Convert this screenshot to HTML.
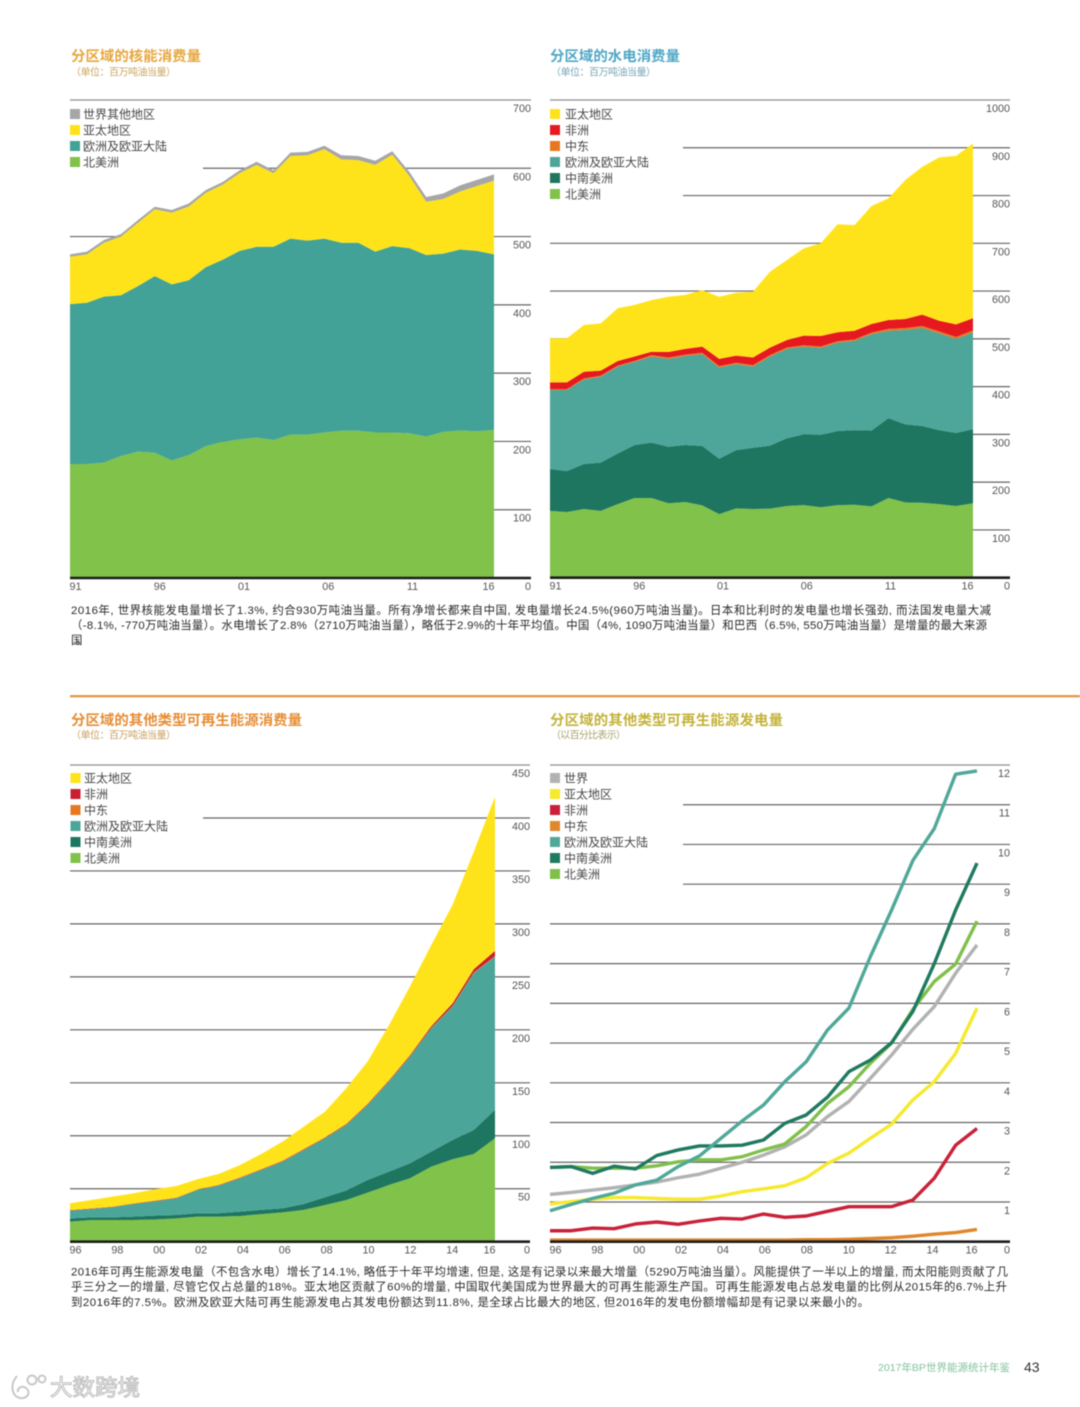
<!DOCTYPE html>
<html lang="zh-CN">
<head>
<meta charset="utf-8">
<title>2017年BP世界能源统计年鉴 第43页</title>
<style>
  html, body { margin: 0; padding: 0; background: #fff; }
  body { width: 1080px; height: 1407px; overflow: hidden; }
  #page { display: block; filter: blur(0.5px); }
  text { font-family: "Liberation Sans", "Noto Sans CJK SC", sans-serif; }
  .title { font-size: 14.4px; font-weight: 700; }
  .sub { font-size: 10px; }
  .legend { font-size: 12px; fill: #484848; }
  .tick { font-size: 10.8px; fill: #555555; }
  .cap { font-size: 11.4px; fill: #2a2a2a; }
</style>
</head>
<body>
<svg id="page" xmlns="http://www.w3.org/2000/svg" width="1080" height="1407" viewBox="0 0 1080 1407">
  <rect x="0" y="0" width="1080" height="1407" fill="#ffffff"/>

  <text class="title" x="71" y="61" fill="#e6a73f" textLength="130">分区域的核能消费量</text>
  <text class="sub" x="71" y="75.5" fill="#c9a663" textLength="105">（单位：百万吨油当量）</text>
  <text class="title" x="550" y="61" fill="#4fa7c6" textLength="130">分区域的水电消费量</text>
  <text class="sub" x="551" y="75.5" fill="#7aa6b6" textLength="105">（单位：百万吨油当量）</text>

  <g id="chart-nuclear"></g>
  <g id="chart-hydro"></g>

  <g>
    <text class="cap" x="71" y="614" textLength="920">2016年, 世界核能发电量增长了1.3%, 约合930万吨油当量。所有净增长都来自中国, 发电量增长24.5%(960万吨油当量)。日本和比利时的发电量也增长强劲, 而法国发电量大减</text>
    <text class="cap" x="71" y="629" textLength="916">（-8.1%, -770万吨油当量）。水电增长了2.8%（2710万吨油当量），略低于2.9%的十年平均值。中国（4%, 1090万吨油当量）和巴西（6.5%, 550万吨油当量）是增量的最大来源</text>
    <text class="cap" x="71" y="644" textLength="16">国。</text>
  </g>

  <rect x="70" y="695" width="1010" height="2.4" fill="#e29a4c"/>

  <text class="title" x="71" y="725" fill="#e68d35" textLength="231">分区域的其他类型可再生能源消费量</text>
  <text class="sub" x="71" y="738.5" fill="#c9a063" textLength="105">（单位：百万吨油当量）</text>
  <text class="title" x="550" y="725" fill="#c4b23a" textLength="233">分区域的其他类型可再生能源发电量</text>
  <text class="sub" x="551" y="738.5" fill="#aaa26e" textLength="75">（以百分比表示）</text>

  <g id="chart-renewable"></g>
  <g id="chart-share"></g>

  <g>
    <text class="cap" x="71" y="1275.5" textLength="937">2016年可再生能源发电量（不包含水电）增长了14.1%, 略低于十年平均增速, 但是, 这是有记录以来最大增量（5290万吨油当量）。风能提供了一半以上的增量, 而太阳能则贡献了几</text>
    <text class="cap" x="71" y="1290.5" textLength="936">乎三分之一的增量, 尽管它仅占总量的18%。亚太地区贡献了60%的增量, 中国取代美国成为世界最大的可再生能源生产国。可再生能源发电占总发电量的比例从2015年的6.7%上升</text>
    <text class="cap" x="71" y="1306" textLength="798">到2016年的7.5%。欧洲及欧亚大陆可再生能源发电占其发电份额达到11.8%, 是全球占比最大的地区, 但2016年的发电份额增幅却是有记录以来最小的。</text>
  </g>

  <text x="878" y="1371" font-size="10.5" fill="#84c2a0" textLength="132">2017年BP世界能源统计年鉴</text>
  <text x="1024" y="1372" font-size="14" fill="#333333">43</text>

  <g>
    <path d="M17 1376 C10 1384 11 1396 20 1398 C28 1399 31 1392 26 1388 C22 1385 17 1388 18 1392" fill="none" stroke="#c8c8c8" stroke-width="2"/>
    <circle cx="32" cy="1380" r="4.5" fill="none" stroke="#c8c8c8" stroke-width="2"/>
    <circle cx="42" cy="1379" r="3.5" fill="none" stroke="#c8c8c8" stroke-width="2"/>
    <text x="50" y="1395.5" font-size="22.5" fill="#ffffff" stroke="#bdbdbd" stroke-width="1" textLength="90">大数跨境</text>
  </g>
</svg>

<script>
// ---------- Nuclear consumption (million tonnes oil equivalent) ----------
const nuclearYears = [1991,1992,1993,1994,1995,1996,1997,1998,1999,2000,2001,2002,2003,2004,2005,2006,2007,2008,2009,2010,2011,2012,2013,2014,2015,2016];
const nuclearXTicks = ['91','96','01','06','11','16'];
const nuclearYTicks = [0,100,200,300,400,500,600,700];
const nuclearNorthAmerica = [167,167,169,178.6,185,183.5,172,180,193,199.6,203,205.5,202,210,210,213,215.7,215.7,213,213,212,207,214,216,215,217];
const nuclearEurope = [234,236,243,235.4,242.5,258.5,258,256,262,266.4,276,279.5,283,287,284,284,275.3,275.3,265,273,271,266,261,265,264,257];
const nuclearAsiaPacific = [69.5,71,79,86,92.5,98,105,108,109,110,114,120,108,121,125,131,122,121,127,134,106,78,80,85,95,108];
const nuclearRestOfWorld = [3.5,4,4,3.6,4,3.6,4,4.5,4,4,4,4.5,4,5,5,5,6,6,6,5,6,7,8,9,9,9];

// ---------- Hydro consumption ----------
const hydroYears = [1991,1992,1993,1994,1995,1996,1997,1998,1999,2000,2001,2002,2003,2004,2005,2006,2007,2008,2009,2010,2011,2012,2013,2014,2015,2016];
const hydroXTicks = ['91','96','01','06','11','16'];
const hydroYTicks = [0,100,200,300,400,500,600,700,800,900,1000];
const hydroNorthAmerica = [140,137.5,143.8,140,154,166.8,166.8,155.8,158.5,151.5,133,145,143.8,144.6,150,152,147.4,152,152.8,149.4,166.8,157.8,157,154,150,155.8];
const hydroSouthCentralAmerica = [87.5,85.5,94.2,101,106,111,115.9,118.2,119.3,124.2,116,122,128.2,131.8,141.8,148,151.3,155,156.2,158.4,167.2,163.2,160.6,155,153,155.2];
const hydroEurope = [165.5,170,177,180,182,174.2,180.3,184,186.2,192.3,191,180,170,186.6,187.2,183.7,182.3,185,187,202.2,183,197.6,205.4,202.6,197,202.8];
const hydroMiddleEast = [2,2,2,2,2,2,3,3,3,3,3,3,3,3,3,3,3,3,3,3,4,4,4,4,4,4];
const hydroAfrica = [14,14,14,10.5,9.6,9,7,11.5,12,12.7,15,14.8,16,15.7,15.5,20,22,18.7,18,18,18.5,18.9,23.6,22.4,26.4,25.2];
const hydroAsiaPacific = [92,92,98,99,110.4,108,108,115.5,113,118.3,130,131.8,137.7,158.9,167.5,182.8,194,226.3,221,247,254.5,291,309.4,342,352.6,366];

// ---------- Other renewables consumption ----------
const renewableYears = [1996,1997,1998,1999,2000,2001,2002,2003,2004,2005,2006,2007,2008,2009,2010,2011,2012,2013,2014,2015,2016];
const renewableXTicks = ['96','98','00','02','04','06','08','10','12','14','16'];
const renewableYTicks = [0,50,100,150,200,250,300,350,400,450];
const renewableNorthAmerica = [18.9,20.5,20.5,20.5,21,22,23.7,23.7,24.3,26,27.7,30,34.7,39.4,46.3,53.5,59.9,70.9,77.8,82.8,97.6];
const renewableSouthCentralAmerica = [3.1,2.5,2.5,3.2,3.6,3.2,3.1,3.1,4.1,4,3.8,5.6,7.3,8.9,12,12.5,14.1,14.1,18.2,22.7,26.8];
const renewableEurope = [7.3,7.9,9.5,11.9,13.5,15.8,22,26.1,31.5,37.7,44,51,55.6,61.9,70.7,85,100.7,116.5,126,148.2,144.6];
const renewableMiddleEast = [0.1,0.1,0.1,0.1,0.1,0.1,0.1,0.1,0.2,0.2,0.2,0.2,0.2,0.2,0.3,0.3,0.3,0.4,0.4,0.5,0.6];
const renewableAfrica = [0.4,0.4,0.4,0.4,0.4,0.4,0.4,0.5,0.5,0.5,0.6,0.6,0.6,0.7,0.7,0.8,1,1.5,2.5,3,4.9];
const renewableAsiaPacific = [6.5,8,9.5,9.6,10.9,11.1,9.6,10.5,11.8,14.4,18.2,21.2,24.4,33.8,40,51.9,65,76.6,93.1,110.8,145.5];

// ---------- Renewables share of generation (%) ----------
const shareYears = [1996,1997,1998,1999,2000,2001,2002,2003,2004,2005,2006,2007,2008,2009,2010,2011,2012,2013,2014,2015,2016];
const shareXTicks = ['96','98','00','02','04','06','08','10','12','14','16'];
const shareYTicks = [0,1,2,3,4,5,6,7,8,9,10,11,12];
const shareWorld = [1.19,1.24,1.3,1.36,1.43,1.5,1.61,1.7,1.85,2.0,2.18,2.39,2.69,3.15,3.53,4.11,4.7,5.35,5.92,6.76,7.47];
const shareAsiaPacific = [0.95,1.01,1.07,1.11,1.11,1.09,1.07,1.07,1.15,1.26,1.33,1.41,1.61,1.97,2.23,2.6,2.96,3.57,4.03,4.74,5.88];
const shareAfrica = [0.276,0.276,0.344,0.328,0.446,0.496,0.437,0.521,0.588,0.571,0.697,0.613,0.647,0.765,0.882,0.882,0.882,1.05,1.6,2.43,2.85];
const shareMiddleEast = [0.04,0.04,0.04,0.04,0.04,0.04,0.04,0.04,0.04,0.04,0.04,0.04,0.05,0.05,0.06,0.08,0.1,0.14,0.19,0.23,0.31];
const shareEurope = [0.78,0.94,1.09,1.22,1.43,1.55,1.89,2.16,2.6,3.04,3.44,4.03,4.53,5.33,5.88,7.17,8.35,9.6,10.4,11.77,11.85];
const shareSouthCentralAmerica = [1.87,1.89,1.72,1.9,1.83,2.17,2.31,2.41,2.41,2.43,2.56,2.98,3.19,3.64,4.28,4.57,5.01,5.8,7.0,8.35,9.53];
const shareNorthAmerica = [1.87,1.89,1.85,1.85,1.85,1.91,2.01,2.06,2.06,2.14,2.31,2.46,2.9,3.48,3.9,4.49,5.0,5.85,6.55,6.99,8.07];

const SVG_NS = 'http://www.w3.org/2000/svg';

function svgEl(tag, attrs, parent) {
  const el = document.createElementNS(SVG_NS, tag);
  for (const k in attrs) el.setAttribute(k, attrs[k]);
  parent.appendChild(el);
  return el;
}

function makeAxes(spec) {
  const n = spec.years.length;
  const first = spec.years[0];
  const last = spec.years[n - 1];
  const maxV = spec.yTicks[spec.yTicks.length - 1];
  spec.x = function (year) {
    return spec.left + (year - first) * (spec.right - spec.left) / (last - first);
  };
  spec.y = function (v) {
    return spec.bottom - v * (spec.bottom - spec.top) / maxV;
  };
}

function drawGrid(spec, g) {
  spec.yTicks.forEach(function (v) {
    if (v === 0) return;
    const start = spec.clearTicks.indexOf(v) >= 0 ? spec.clearX : spec.left;
    const line = svgEl('line', {
      x1: start, x2: spec.axisEnd, y1: spec.y(v), y2: spec.y(v),
      stroke: v === spec.yTicks[spec.yTicks.length - 1] ? '#8f8f8f' : '#666666',
      'stroke-width': 1.2
    }, g);
    
    
  });
}

function drawAxisLabels(spec, g) {
  spec.yTicks.forEach(function (v) {
    const t = svgEl('text', { class: 'tick', x: spec.axisEnd, y: spec.y(v) + 12, 'text-anchor': 'end' }, g);
    t.textContent = String(v);
    
    
  });
  spec.xTicks.forEach(function (label, i) {
    const year = spec.years.find(function (yr) { return String(yr).slice(-2) === label; });
    const isLast = i === spec.xTicks.length - 1;
    const px = isLast ? spec.right + 0.5 : spec.left + (spec.x(year) - spec.left) * spec.tickScale + 5.5;
    const t = svgEl('text', { class: 'tick', x: px, y: spec.bottom + 12, 'text-anchor': isLast ? 'end' : 'middle' }, g);
    t.textContent = label;
    
    
  });
  const base = svgEl('line', {
    x1: spec.left, x2: spec.axisEnd, y1: spec.bottom, y2: spec.bottom,
    stroke: '#1c1c1c', 'stroke-width': 2.6
  }, g);
  
  
}

function drawLegend(spec, g) {
  spec.legend.forEach(function (item, i) {
    const cy = spec.legendY + i * 16;
    const swatch = svgEl('rect', { x: spec.legendX, y: cy - 5, width: 10, height: 10, fill: item.color }, g);
    
    
    const label = svgEl('text', { class: 'legend', x: spec.legendTextX, y: cy + 4.3 }, g);
    label.textContent = item.label;
    
    
  });
}

function drawStacked(spec) {
  const g = document.getElementById(spec.id);
  makeAxes(spec);
  drawGrid(spec, g);
  const running = spec.years.map(function () { return 0; });
  spec.series.forEach(function (s) {
    const lower = running.slice();
    s.values.forEach(function (v, i) { running[i] += v; });
    const pts = [];
    spec.years.forEach(function (yr, i) {
      pts.push(spec.x(yr).toFixed(2) + ',' + spec.y(running[i]).toFixed(2));
    });
    for (let i = spec.years.length - 1; i >= 0; i--) {
      pts.push(spec.x(spec.years[i]).toFixed(2) + ',' + spec.y(lower[i]).toFixed(2));
    }
    const poly = svgEl('polygon', { points: pts.join(' '), fill: s.color }, g);
    
    
  });
  drawAxisLabels(spec, g);
  spec.legend = spec.series.slice().reverse();
  drawLegend(spec, g);
}

function drawLines(spec) {
  const g = document.getElementById(spec.id);
  makeAxes(spec);
  drawGrid(spec, g);
  spec.drawOrder.forEach(function (s) {
    const pts = spec.years.map(function (yr, i) {
      return spec.x(yr).toFixed(2) + ',' + spec.y(s.values[i]).toFixed(2);
    });
    const line = svgEl('polyline', {
      points: pts.join(' '), fill: 'none', stroke: s.color,
      'stroke-width': 3.4, 'stroke-linejoin': 'round'
    }, g);
    
    
  });
  drawAxisLabels(spec, g);
  drawLegend(spec, g);
}

const GREEN = '#80c24a', DARK = '#1e7560', YELLOW = '#ffe31a', RED = '#e5191f', ORANGE = '#e87722', GREY = '#a6a6a6';

drawStacked({
  id: 'chart-nuclear', years: nuclearYears, xTicks: nuclearXTicks, yTicks: nuclearYTicks,
  left: 70, right: 494, top: 100, bottom: 578, axisEnd: 531, clearTicks: [600], clearX: 203, tickScale: 0.9935,
  legendX: 70, legendTextX: 83, legendY: 114,
  series: [
    { key: 'north-america', label: '北美洲', values: nuclearNorthAmerica, color: GREEN },
    { key: 'europe-eurasia', label: '欧洲及欧亚大陆', values: nuclearEurope, color: '#42a297' },
    { key: 'asia-pacific', label: '亚太地区', values: nuclearAsiaPacific, color: YELLOW },
    { key: 'rest-of-world', label: '世界其他地区', values: nuclearRestOfWorld, color: GREY }
  ]
});

drawStacked({
  id: 'chart-hydro', years: hydroYears, xTicks: hydroXTicks, yTicks: hydroYTicks,
  left: 550, right: 973, top: 100, bottom: 577.7, axisEnd: 1010, clearTicks: [900, 800], clearX: 683, tickScale: 0.99,
  legendX: 550, legendTextX: 565, legendY: 114,
  series: [
    { key: 'north-america', label: '北美洲', values: hydroNorthAmerica, color: GREEN },
    { key: 'south-central-america', label: '中南美洲', values: hydroSouthCentralAmerica, color: DARK },
    { key: 'europe-eurasia', label: '欧洲及欧亚大陆', values: hydroEurope, color: '#4ea59a' },
    { key: 'middle-east', label: '中东', values: hydroMiddleEast, color: ORANGE },
    { key: 'africa', label: '非洲', values: hydroAfrica, color: RED },
    { key: 'asia-pacific', label: '亚太地区', values: hydroAsiaPacific, color: YELLOW }
  ]
});

drawStacked({
  id: 'chart-renewable', years: renewableYears, xTicks: renewableXTicks, yTicks: renewableYTicks,
  left: 70, right: 495, top: 765, bottom: 1241.7, axisEnd: 530, clearTicks: [400], clearX: 203, tickScale: 0.985,
  legendX: 70.5, legendTextX: 84, legendY: 778,
  series: [
    { key: 'north-america', label: '北美洲', values: renewableNorthAmerica, color: GREEN },
    { key: 'south-central-america', label: '中南美洲', values: renewableSouthCentralAmerica, color: DARK },
    { key: 'europe-eurasia', label: '欧洲及欧亚大陆', values: renewableEurope, color: '#4ca599' },
    { key: 'middle-east', label: '中东', values: renewableMiddleEast, color: ORANGE },
    { key: 'africa', label: '非洲', values: renewableAfrica, color: '#c8202e' },
    { key: 'asia-pacific', label: '亚太地区', values: renewableAsiaPacific, color: YELLOW }
  ]
});

const shareLineWorld = { key: 'world', label: '世界', values: shareWorld, color: '#b2b2b2' };
const shareLineAsia = { key: 'asia-pacific', label: '亚太地区', values: shareAsiaPacific, color: '#f6e92e' };
const shareLineAfrica = { key: 'africa', label: '非洲', values: shareAfrica, color: '#c9213a' };
const shareLineMiddleEast = { key: 'middle-east', label: '中东', values: shareMiddleEast, color: '#e0862c' };
const shareLineEurope = { key: 'europe-eurasia', label: '欧洲及欧亚大陆', values: shareEurope, color: '#4fa898' };
const shareLineSouth = { key: 'south-central-america', label: '中南美洲', values: shareSouthCentralAmerica, color: '#1f7a60' };
const shareLineNorth = { key: 'north-america', label: '北美洲', values: shareNorthAmerica, color: '#80c04a' };

drawLines({
  id: 'chart-share', years: shareYears, xTicks: shareXTicks, yTicks: shareYTicks,
  left: 550, right: 977, top: 765, bottom: 1241.7, axisEnd: 1010, clearTicks: [11, 10, 9], clearX: 683, tickScale: 0.981,
  legendX: 550, legendTextX: 564, legendY: 778,
  legend: [shareLineWorld, shareLineAsia, shareLineAfrica, shareLineMiddleEast, shareLineEurope, shareLineSouth, shareLineNorth],
  drawOrder: [shareLineWorld, shareLineAsia, shareLineAfrica, shareLineMiddleEast, shareLineNorth, shareLineSouth, shareLineEurope]
});
</script>
</body>
</html>
